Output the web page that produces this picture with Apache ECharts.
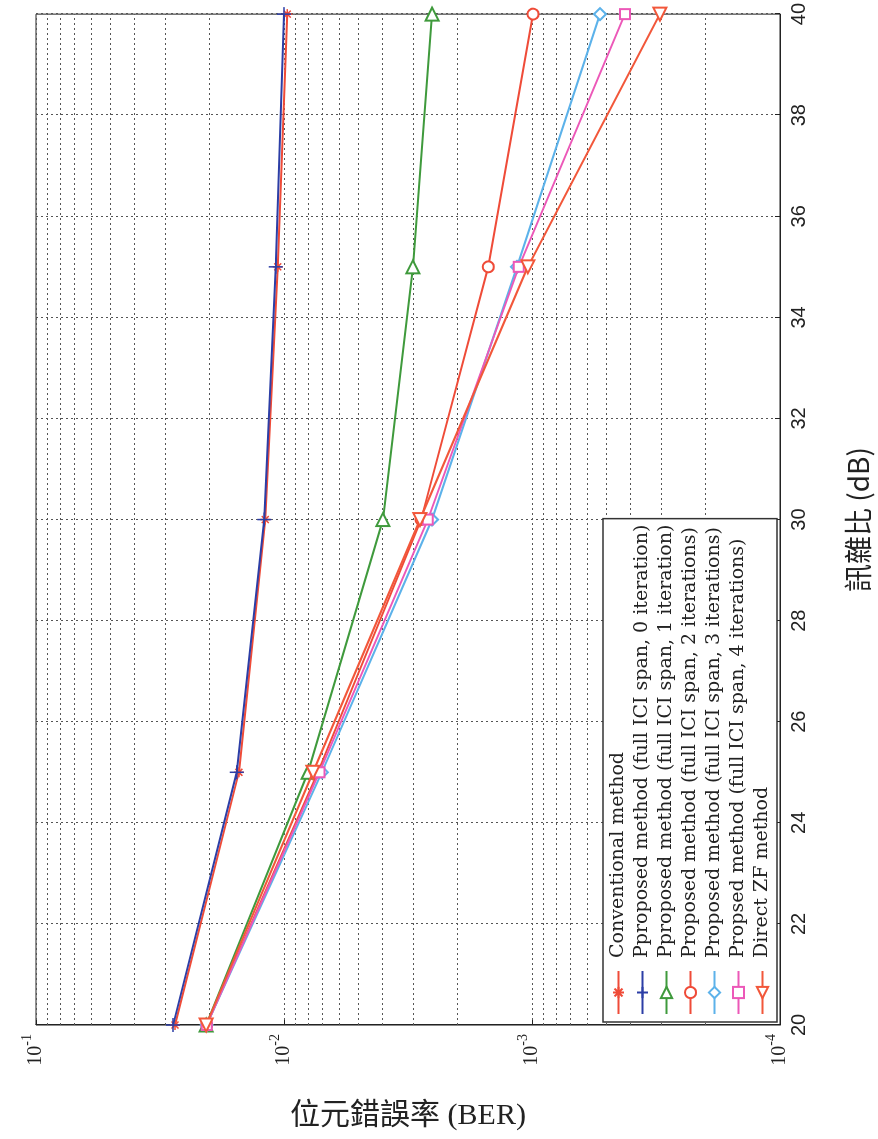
<!DOCTYPE html>
<html><head><meta charset="utf-8">
<script src="https://cdn.jsdelivr.net/npm/echarts@6/dist/echarts.min.js"></script>
<style>
html,body{margin:0;padding:0;background:#fff;overflow:hidden;}
#wrap{position:absolute;left:0;top:0;width:878px;height:1139px;overflow:hidden;background:#fff;}
#chart{position:absolute;left:0;top:0;width:1139px;height:878px;transform-origin:0 0;transform:translate(0,1139px) rotate(-90deg);}
</style></head><body><div id="wrap"><div id="chart"></div></div>
<script>
// ---- data ----
const snr = [20, 25, 30, 35, 40];
const conventional = [0.0275, 0.0152, 0.0119, 0.0106, 0.0097];
const prop0 = [0.0280, 0.0155, 0.0120, 0.0108, 0.0100];
const prop1 = [0.0206, 0.0080, 0.00399, 0.00302, 0.00253];
const prop2 = [0.0205, 0.0073, 0.00280, 0.00150, 0.00099];
const prop3 = [0.0205, 0.00703, 0.00253, 0.00115, 0.000532];
const prop4 = [0.0205, 0.0072, 0.00263, 0.00113, 0.000422];
const directZF = [0.0206, 0.00764, 0.00283, 0.00104, 0.000305];
const seriesNames = [
  'Conventional method',
  'Pproposed method (full ICI span, 0 iteration)',
  'Pproposed method (full ICI span, 1 iteration)',
  'Proposed method (full ICI span, 2 iterations)',
  'Proposed method (full ICI span, 3 iterations)',
  'Propsed method (full ICI span, 4 iterations)',
  'Direct ZF method'
];
const berExponents = {'0.0001': '-4', '0.001': '-3', '0.01': '-2', '0.1': '-1'};
const berMinorGrid = [0.0002,0.0003,0.0004,0.0005,0.0006,0.0007,0.0008,0.0009,
  0.002,0.003,0.004,0.005,0.006,0.007,0.008,0.009,
  0.02,0.03,0.04,0.05,0.06,0.07,0.08,0.09];
const xAxisTitle = '訊雜比 (dB)';
const yAxisTitle = '位元錯誤率 (BER)';

// ---- styles ----
const colors = ['#ef4b38', '#2c3ea6', '#3f9a3c', '#ef4b38', '#5cb2ea', '#ec58b8', '#f2573a'];
const symbols = [
  'path://M10 0L10 20M0 10L20 10M3 3L17 17M3 17L17 3',
  'path://M10 0L10 20M0 10L20 10',
  'emptyTriangle', 'emptyCircle', 'emptyDiamond', 'emptyRect', 'emptyTriangle'
];
const symbolSizes = [10, 14, 13, 11, 12, 10, 13];
const symbolRotates = [0, 0, -90, 0, 0, 0, 90];
const allData = [conventional, prop0, prop1, prop2, prop3, prop4, directZF];
const gridLine = {color: '#555', width: 1, type: [2, 3]};

const series = allData.map((d, i) => ({
  name: seriesNames[i],
  type: 'line',
  data: snr.map((s, k) => [s, d[k]]),
  symbol: symbols[i],
  symbolSize: symbolSizes[i],
  symbolRotate: symbolRotates[i],
  showAllSymbol: true,
  lineStyle: {color: colors[i], width: 2},
  itemStyle: {color: colors[i], borderColor: colors[i], borderWidth: 1.5},
  z: 3 + i
}));
series.unshift({
  name: 'minorgrid', type: 'lines', coordinateSystem: 'cartesian2d',
  silent: true, z: 1, animation: false,
  lineStyle: Object.assign({opacity: 1, curveness: 0}, gridLine),
  data: berMinorGrid.map(v => ({coords: [[snr[0], v], [snr[snr.length - 1], v]]}))
});

const chart = echarts.init(document.getElementById('chart'), null, {renderer: 'canvas'});
chart.setOption({
  animation: false,
  backgroundColor: '#fff',
  grid: {left: 113, right: 12, top: 36, bottom: 98, show: true, borderColor: '#222', borderWidth: 1},
  legend: {
    data: seriesNames,
    orient: 'vertical', left: 117, top: 603,
    padding: [6, 6, 5, 7], itemGap: 5, itemWidth: 43, itemHeight: 14,
    backgroundColor: '#fff', borderColor: '#333', borderWidth: 1.5,
    textStyle: {fontFamily: 'DejaVu Serif', fontSize: 19, color: '#222', padding: [0, 0, 0, 8]}
  },
  xAxis: {
    type: 'value', min: 20, max: 40, interval: 2,
    name: xAxisTitle, nameLocation: 'middle', nameGap: 64,
    nameTextStyle: {fontFamily: 'Noto Sans CJK TC', fontSize: 28, color: '#222'},
    axisLine: {show: true, onZero: false, lineStyle: {color: '#222'}},
    axisTick: {show: true, inside: true, length: 5, lineStyle: {color: '#222'}},
    axisLabel: {fontFamily: 'Liberation Sans', fontSize: 20, color: '#222', margin: 9},
    splitLine: {show: true, lineStyle: gridLine}
  },
  yAxis: {
    type: 'log', logBase: 10, min: 0.0001, max: 0.1,
    name: yAxisTitle, nameLocation: 'middle', nameGap: 76, nameRotate: -90,
    nameTextStyle: {fontFamily: 'Liberation Serif, Noto Sans CJK TC', fontSize: 30, color: '#222'},
    axisLine: {show: true, lineStyle: {color: '#222'}},
    axisTick: {show: true, inside: true, length: 5, lineStyle: {color: '#222'}},
    axisLabel: {
      margin: 9,
      formatter: v => '{b|10}{s|' + (berExponents[String(v)] || '') + '}',
      rich: {
        b: {fontFamily: 'Liberation Serif', fontSize: 20, color: '#222', lineHeight: 40, verticalAlign: 'middle'},
        s: {fontFamily: 'Liberation Serif', fontSize: 14, color: '#222', lineHeight: 14, verticalAlign: 'top', padding: [4, 0, 0, 0]}
      }
    },
    splitLine: {show: true, lineStyle: gridLine}
  },
  series: series
});
</script></body></html>
